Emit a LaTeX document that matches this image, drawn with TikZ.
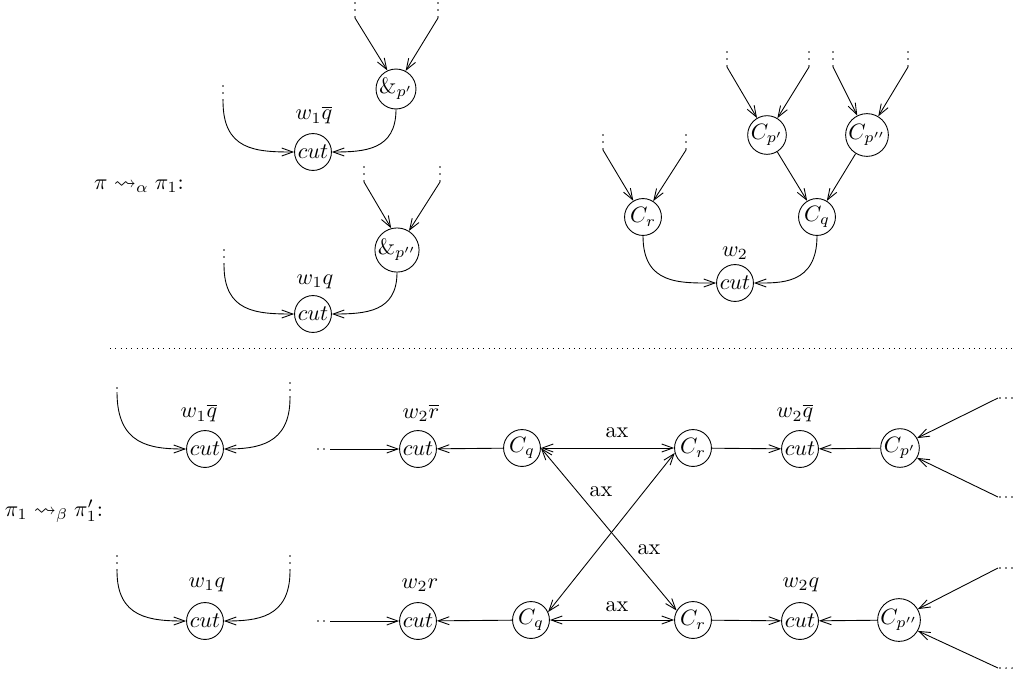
\documentclass[tikz,border=0pt]{standalone}
\usepackage{amssymb}
\usetikzlibrary{arrows.meta}
\newcommand\mkvdots[4]{\coordinate (#1) at (#2,#3);
  \foreach \k in {#4}{\fill (#2,#3-\k) circle[radius=0.35pt];}}
\newcommand\mkhdots[4]{\coordinate (#1) at (#2,#3);
  \foreach \k in {#4}{\fill (#2+\k,#3) circle[radius=0.35pt];}}
\begin{document}
\begin{tikzpicture}[x=0.45pt,y=-0.45pt,line width=0.4pt,
  nd/.style={circle,draw,inner sep=0pt,minimum size=16.6pt},
  lbl/.style={inner sep=0pt},
  arr/.style={-{Straight Barb[length=5pt,width=3.6pt]}},
  darr/.style={{Straight Barb[length=5pt,width=3.6pt]}-{Straight Barb[length=5pt,width=3.6pt]}}]
\useasboundingbox (0,0) rectangle (1015,678);

% ---------- top left ----------
\node[lbl] (alpha) at (139,186) {$\pi \rightsquigarrow_\alpha \pi_1$:};

\node[nd] (ap1) at (396,89) {$\&_{p'}$};
\node[nd] (cut1) at (313,152) {$cut$};
\node[lbl] (l1) at (314,115) {$w_1\overline{q}$};
\mkvdots{t1a}{355}{18}{1,8,15}
\mkvdots{t1b}{438}{18}{1,8,15}
\mkvdots{t1c}{223}{101}{1,8,15}
\draw[arr] (t1a) -- (ap1.115);
\draw[arr] (t1b) -- (ap1.62);
\draw[arr] (t1c) .. controls (223,150) and (255,152) .. (cut1.west);
\draw[arr] (ap1.south) .. controls (396,150) and (365,152) .. (cut1.east);

\node[nd] (ap2) at (397,250) {$\&_{p''}$};
\node[nd] (cut2) at (313,314) {$cut$};
\node[lbl] (l2) at (315,282) {$w_1q$};
\mkvdots{t2a}{364}{182}{1,8,15}
\mkvdots{t2b}{440}{182}{1,8,15}
\mkvdots{t2c}{224}{265}{1,8,15}
\draw[arr] (t2a) -- (ap2.105);
\draw[arr] (t2b) -- (ap2.58);
\draw[arr] (t2c) .. controls (224,312) and (256,314) .. (cut2.west);
\draw[arr] (ap2.south) .. controls (397,312) and (366,314) .. (cut2.east);

% ---------- top right ----------
\node[nd] (cr) at (643,217) {$C_r$};
\node[nd] (cq) at (817,217) {$C_q$};
\node[nd] (cp1) at (767,135) {$C_{p'}$};
\node[nd] (cp2) at (867,135) {$C_{p''}$};
\node[nd] (cut3) at (735,283) {$cut$};
\node[lbl] (l3) at (735,253) {$w_2$};
\mkvdots{r1}{603}{150}{1,8,15}
\mkvdots{r2}{686}{150}{1,8,15}
\mkvdots{p1a}{727}{67}{1,8,15}
\mkvdots{p1b}{809}{67}{1,8,15}
\mkvdots{p2a}{833}{67}{1,8,15}
\mkvdots{p2b}{908}{67}{1,8,15}
\draw[arr] (r1) -- (cr);
\draw[arr] (r2) -- (cr);
\draw[arr] (p1a) -- (cp1);
\draw[arr] (p1b) -- (cp1);
\draw[arr] (p2a) -- (cp2);
\draw[arr] (p2b) -- (cp2);
\draw[arr] (cp1) -- (cq);
\draw[arr] (cp2) -- (cq);
\draw[arr] (cr.south) .. controls (643,285) and (680,283) .. (cut3.west);
\draw[arr] (cq.south) .. controls (817,285) and (780,283) .. (cut3.east);

% ---------- separator ----------
\coordinate (sl) at (110,348);
\coordinate (sr) at (1015,348);
\draw[dotted] (sl) -- (sr);

% ---------- bottom ----------
\node[lbl] (beta) at (54,511) {$\pi_1 \rightsquigarrow_\beta \pi_1'$:};

% row 1
\node[nd] (ca) at (205,449) {$cut$};
\node[lbl] (la) at (199,413) {$w_1\overline{q}$};
\mkvdots{va1}{117}{392}{4}
\mkvdots{va2}{290}{398}{1,8,15}
\draw[arr] (va1) .. controls (117,445) and (150,449) .. (ca.west);
\draw[arr] (va2) .. controls (290,445) and (257,449) .. (ca.east);

\node[nd] (cb) at (418,449) {$cut$};
\node[lbl] (lb) at (421,413) {$w_2\overline{r}$};
\mkhdots{hb1}{330}{449}{-12,-6}
\node[nd] (q1) at (522,448) {$C_q$};
\node[nd] (r1b) at (693,448) {$C_r$};
\node[nd] (cc) at (800,449) {$cut$};
\node[lbl] (lc) at (795,413) {$w_2\overline{q}$};
\node[nd] (pp1) at (900,448) {$C_{p'}$};
\mkhdots{d1}{998}{398}{2,8,14}
\mkhdots{d2}{998}{497}{2,8,14}
\draw[arr] (hb1) -- (cb.west);
\draw[arr] (q1) -- (cb);
\draw[arr] (r1b) -- (cc);
\draw[arr] (pp1) -- (cc);
\draw[arr] (d1) -- (pp1.30);
\draw[arr] (d2) -- (pp1.-30);

% row 2
\node[nd] (cd) at (205,621) {$cut$};
\node[lbl] (ld) at (207,585) {$w_1q$};
\mkvdots{vd1}{117}{571}{1,8,15}
\mkvdots{vd2}{290}{571}{1,8,15}
\draw[arr] (vd1) .. controls (117,618) and (150,621) .. (cd.west);
\draw[arr] (vd2) .. controls (290,618) and (257,621) .. (cd.east);

\node[nd] (ce) at (418,621) {$cut$};
\node[lbl] (le) at (420,585) {$w_2r$};
\mkhdots{hb2}{330}{621}{-12,-6}
\node[nd] (q2) at (531,620) {$C_q$};
\node[nd] (r2b) at (693,620) {$C_r$};
\node[nd] (cf) at (800,621) {$cut$};
\node[lbl] (lf) at (801,585) {$w_2q$};
\node[nd] (pp2) at (899,620) {$C_{p''}$};
\mkhdots{d3}{998}{568}{2,8,14}
\mkhdots{d4}{998}{668}{2,8,14}
\draw[arr] (hb2) -- (ce.west);
\draw[arr] (q2) -- (ce);
\draw[arr] (r2b) -- (cf);
\draw[arr] (pp2) -- (cf);
\draw[arr] (d3) -- (pp2.30);
\draw[arr] (d4) -- (pp2.-30);

% ax connections
\draw[darr] (q1.east) -- (r1b.west);
\draw[darr] (q1.east) -- (r2b.150);
\draw[darr] (q2.25) -- (r1b.195);
\draw[darr] (q2.east) -- (r2b.west);
\node[lbl] (ax1) at (617,433) {ax};
\node[lbl] (ax2) at (601,492) {ax};
\node[lbl] (ax3) at (649,550) {ax};
\node[lbl] (ax4) at (617,607) {ax};
\end{tikzpicture}
\end{document}
